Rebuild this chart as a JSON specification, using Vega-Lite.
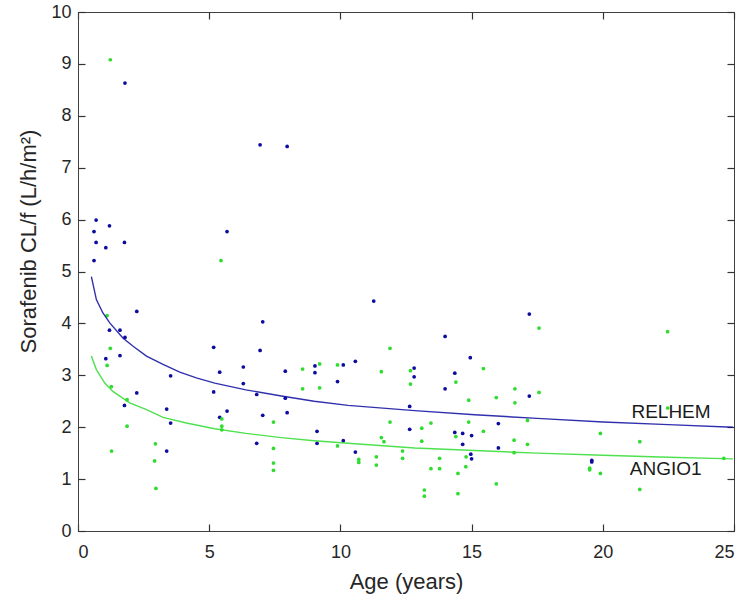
{
  "$schema": "https://vega.github.io/schema/vega-lite/v6.json",
  "width": 656,
  "height": 519,
  "autosize": "none",
  "padding": {"left": 78, "top": 12, "right": 17, "bottom": 70},
  "background": "white",
  "config": {
    "font": "Liberation Sans",
    "view": {"stroke": "#404040", "strokeWidth": 1},
    "axis": {
      "grid": false,
      "domainColor": "#404040",
      "tickColor": "#333333",
      "tickSize": 7,
      "tickWidth": 1.2,
      "labelColor": "#262626",
      "titleColor": "#262626",
      "labelFontSize": 18,
      "titleFontSize": 22,
      "titleFontWeight": "normal",
      "labelFont": "Liberation Sans",
      "titleFont": "Liberation Sans"
    }
  },
  "datasets": {
    "pts": [
      {"age": 0.69, "cl": 5.99, "model": "RELHEM"},
      {"age": 0.61, "cl": 5.77, "model": "RELHEM"},
      {"age": 1.20, "cl": 5.88, "model": "RELHEM"},
      {"age": 0.69, "cl": 5.56, "model": "RELHEM"},
      {"age": 1.06, "cl": 5.46, "model": "RELHEM"},
      {"age": 1.77, "cl": 5.56, "model": "RELHEM"},
      {"age": 0.61, "cl": 5.21, "model": "RELHEM"},
      {"age": 1.79, "cl": 8.63, "model": "RELHEM"},
      {"age": 6.94, "cl": 7.44, "model": "RELHEM"},
      {"age": 7.97, "cl": 7.41, "model": "RELHEM"},
      {"age": 5.68, "cl": 5.77, "model": "RELHEM"},
      {"age": 2.24, "cl": 4.23, "model": "RELHEM"},
      {"age": 1.20, "cl": 3.87, "model": "RELHEM"},
      {"age": 1.60, "cl": 3.87, "model": "RELHEM"},
      {"age": 1.79, "cl": 3.73, "model": "RELHEM"},
      {"age": 1.60, "cl": 3.38, "model": "RELHEM"},
      {"age": 1.06, "cl": 3.32, "model": "RELHEM"},
      {"age": 3.53, "cl": 2.99, "model": "RELHEM"},
      {"age": 2.24, "cl": 2.66, "model": "RELHEM"},
      {"age": 1.77, "cl": 2.42, "model": "RELHEM"},
      {"age": 3.38, "cl": 2.35, "model": "RELHEM"},
      {"age": 3.53, "cl": 2.08, "model": "RELHEM"},
      {"age": 3.38, "cl": 1.54, "model": "RELHEM"},
      {"age": 5.17, "cl": 3.54, "model": "RELHEM"},
      {"age": 5.40, "cl": 3.06, "model": "RELHEM"},
      {"age": 5.17, "cl": 2.68, "model": "RELHEM"},
      {"age": 6.30, "cl": 3.16, "model": "RELHEM"},
      {"age": 6.30, "cl": 2.84, "model": "RELHEM"},
      {"age": 7.04, "cl": 4.03, "model": "RELHEM"},
      {"age": 6.94, "cl": 3.48, "model": "RELHEM"},
      {"age": 6.81, "cl": 2.63, "model": "RELHEM"},
      {"age": 5.68, "cl": 2.31, "model": "RELHEM"},
      {"age": 5.40, "cl": 2.19, "model": "RELHEM"},
      {"age": 7.04, "cl": 2.23, "model": "RELHEM"},
      {"age": 6.81, "cl": 1.69, "model": "RELHEM"},
      {"age": 11.27, "cl": 4.43, "model": "RELHEM"},
      {"age": 7.90, "cl": 3.08, "model": "RELHEM"},
      {"age": 7.90, "cl": 2.56, "model": "RELHEM"},
      {"age": 7.97, "cl": 2.28, "model": "RELHEM"},
      {"age": 9.03, "cl": 3.18, "model": "RELHEM"},
      {"age": 9.03, "cl": 3.05, "model": "RELHEM"},
      {"age": 10.11, "cl": 3.20, "model": "RELHEM"},
      {"age": 10.57, "cl": 3.27, "model": "RELHEM"},
      {"age": 9.89, "cl": 2.88, "model": "RELHEM"},
      {"age": 9.11, "cl": 1.92, "model": "RELHEM"},
      {"age": 9.11, "cl": 1.69, "model": "RELHEM"},
      {"age": 10.11, "cl": 1.74, "model": "RELHEM"},
      {"age": 10.57, "cl": 1.52, "model": "RELHEM"},
      {"age": 12.64, "cl": 2.40, "model": "RELHEM"},
      {"age": 12.64, "cl": 1.96, "model": "RELHEM"},
      {"age": 12.81, "cl": 3.14, "model": "RELHEM"},
      {"age": 12.81, "cl": 2.97, "model": "RELHEM"},
      {"age": 13.99, "cl": 3.75, "model": "RELHEM"},
      {"age": 13.99, "cl": 2.74, "model": "RELHEM"},
      {"age": 14.36, "cl": 3.04, "model": "RELHEM"},
      {"age": 14.36, "cl": 1.90, "model": "RELHEM"},
      {"age": 14.66, "cl": 1.88, "model": "RELHEM"},
      {"age": 14.66, "cl": 1.67, "model": "RELHEM"},
      {"age": 14.95, "cl": 3.34, "model": "RELHEM"},
      {"age": 15.00, "cl": 1.84, "model": "RELHEM"},
      {"age": 14.97, "cl": 1.48, "model": "RELHEM"},
      {"age": 15.00, "cl": 1.39, "model": "RELHEM"},
      {"age": 16.02, "cl": 2.07, "model": "RELHEM"},
      {"age": 16.02, "cl": 1.60, "model": "RELHEM"},
      {"age": 17.20, "cl": 4.18, "model": "RELHEM"},
      {"age": 17.20, "cl": 2.60, "model": "RELHEM"},
      {"age": 19.58, "cl": 1.36, "model": "RELHEM"},
      {"age": 19.58, "cl": 1.33, "model": "RELHEM"},
      {"age": 1.23, "cl": 9.08, "model": "ANGIO1"},
      {"age": 5.45, "cl": 5.21, "model": "ANGIO1"},
      {"age": 1.11, "cl": 4.15, "model": "ANGIO1"},
      {"age": 1.23, "cl": 3.52, "model": "ANGIO1"},
      {"age": 1.11, "cl": 3.19, "model": "ANGIO1"},
      {"age": 1.27, "cl": 2.78, "model": "ANGIO1"},
      {"age": 1.87, "cl": 2.53, "model": "ANGIO1"},
      {"age": 1.87, "cl": 2.02, "model": "ANGIO1"},
      {"age": 2.95, "cl": 1.68, "model": "ANGIO1"},
      {"age": 1.28, "cl": 1.54, "model": "ANGIO1"},
      {"age": 2.92, "cl": 1.35, "model": "ANGIO1"},
      {"age": 2.97, "cl": 0.82, "model": "ANGIO1"},
      {"age": 5.48, "cl": 2.16, "model": "ANGIO1"},
      {"age": 5.48, "cl": 2.02, "model": "ANGIO1"},
      {"age": 5.48, "cl": 1.95, "model": "ANGIO1"},
      {"age": 7.45, "cl": 2.10, "model": "ANGIO1"},
      {"age": 7.45, "cl": 1.59, "model": "ANGIO1"},
      {"age": 7.45, "cl": 1.31, "model": "ANGIO1"},
      {"age": 7.45, "cl": 1.17, "model": "ANGIO1"},
      {"age": 8.56, "cl": 3.12, "model": "ANGIO1"},
      {"age": 8.56, "cl": 2.74, "model": "ANGIO1"},
      {"age": 9.21, "cl": 3.22, "model": "ANGIO1"},
      {"age": 9.21, "cl": 2.76, "model": "ANGIO1"},
      {"age": 9.89, "cl": 3.20, "model": "ANGIO1"},
      {"age": 9.89, "cl": 1.64, "model": "ANGIO1"},
      {"age": 10.70, "cl": 1.38, "model": "ANGIO1"},
      {"age": 10.70, "cl": 1.32, "model": "ANGIO1"},
      {"age": 11.37, "cl": 1.43, "model": "ANGIO1"},
      {"age": 11.37, "cl": 1.27, "model": "ANGIO1"},
      {"age": 11.56, "cl": 3.07, "model": "ANGIO1"},
      {"age": 11.89, "cl": 3.52, "model": "ANGIO1"},
      {"age": 11.89, "cl": 2.10, "model": "ANGIO1"},
      {"age": 11.56, "cl": 1.80, "model": "ANGIO1"},
      {"age": 11.66, "cl": 1.72, "model": "ANGIO1"},
      {"age": 12.37, "cl": 1.54, "model": "ANGIO1"},
      {"age": 12.37, "cl": 1.40, "model": "ANGIO1"},
      {"age": 12.67, "cl": 3.09, "model": "ANGIO1"},
      {"age": 12.67, "cl": 2.83, "model": "ANGIO1"},
      {"age": 13.10, "cl": 1.98, "model": "ANGIO1"},
      {"age": 13.10, "cl": 1.73, "model": "ANGIO1"},
      {"age": 13.45, "cl": 2.08, "model": "ANGIO1"},
      {"age": 13.20, "cl": 0.79, "model": "ANGIO1"},
      {"age": 13.20, "cl": 0.67, "model": "ANGIO1"},
      {"age": 13.45, "cl": 1.20, "model": "ANGIO1"},
      {"age": 13.78, "cl": 1.20, "model": "ANGIO1"},
      {"age": 13.78, "cl": 1.40, "model": "ANGIO1"},
      {"age": 14.40, "cl": 2.87, "model": "ANGIO1"},
      {"age": 14.40, "cl": 1.82, "model": "ANGIO1"},
      {"age": 14.79, "cl": 1.43, "model": "ANGIO1"},
      {"age": 14.78, "cl": 1.24, "model": "ANGIO1"},
      {"age": 14.48, "cl": 1.11, "model": "ANGIO1"},
      {"age": 14.48, "cl": 0.72, "model": "ANGIO1"},
      {"age": 14.89, "cl": 2.10, "model": "ANGIO1"},
      {"age": 14.89, "cl": 2.52, "model": "ANGIO1"},
      {"age": 15.45, "cl": 3.13, "model": "ANGIO1"},
      {"age": 15.45, "cl": 1.92, "model": "ANGIO1"},
      {"age": 15.94, "cl": 2.57, "model": "ANGIO1"},
      {"age": 15.94, "cl": 0.91, "model": "ANGIO1"},
      {"age": 16.65, "cl": 2.74, "model": "ANGIO1"},
      {"age": 16.65, "cl": 2.47, "model": "ANGIO1"},
      {"age": 16.62, "cl": 1.75, "model": "ANGIO1"},
      {"age": 16.62, "cl": 1.51, "model": "ANGIO1"},
      {"age": 17.57, "cl": 3.91, "model": "ANGIO1"},
      {"age": 17.57, "cl": 2.67, "model": "ANGIO1"},
      {"age": 17.13, "cl": 2.13, "model": "ANGIO1"},
      {"age": 17.13, "cl": 1.67, "model": "ANGIO1"},
      {"age": 19.50, "cl": 1.21, "model": "ANGIO1"},
      {"age": 19.50, "cl": 1.18, "model": "ANGIO1"},
      {"age": 19.91, "cl": 1.88, "model": "ANGIO1"},
      {"age": 19.91, "cl": 1.11, "model": "ANGIO1"},
      {"age": 21.41, "cl": 1.72, "model": "ANGIO1"},
      {"age": 21.41, "cl": 0.80, "model": "ANGIO1"},
      {"age": 22.47, "cl": 3.84, "model": "ANGIO1"},
      {"age": 22.47, "cl": 2.37, "model": "ANGIO1"},
      {"age": 24.61, "cl": 1.40, "model": "ANGIO1"}
    ],
    "curves": [
      {"age": 0.51, "cl": 4.90, "model": "RELHEM"},
      {"age": 0.70, "cl": 4.46, "model": "RELHEM"},
      {"age": 0.95, "cl": 4.20, "model": "RELHEM"},
      {"age": 1.21, "cl": 4.01, "model": "RELHEM"},
      {"age": 1.71, "cl": 3.72, "model": "RELHEM"},
      {"age": 2.10, "cl": 3.56, "model": "RELHEM"},
      {"age": 2.61, "cl": 3.37, "model": "RELHEM"},
      {"age": 3.24, "cl": 3.21, "model": "RELHEM"},
      {"age": 3.88, "cl": 3.06, "model": "RELHEM"},
      {"age": 4.51, "cl": 2.95, "model": "RELHEM"},
      {"age": 5.21, "cl": 2.85, "model": "RELHEM"},
      {"age": 6.40, "cl": 2.72, "model": "RELHEM"},
      {"age": 7.75, "cl": 2.60, "model": "RELHEM"},
      {"age": 9.00, "cl": 2.50, "model": "RELHEM"},
      {"age": 10.29, "cl": 2.42, "model": "RELHEM"},
      {"age": 12.83, "cl": 2.32, "model": "RELHEM"},
      {"age": 15.12, "cl": 2.24, "model": "RELHEM"},
      {"age": 17.50, "cl": 2.17, "model": "RELHEM"},
      {"age": 20.01, "cl": 2.10, "model": "RELHEM"},
      {"age": 22.50, "cl": 2.05, "model": "RELHEM"},
      {"age": 24.96, "cl": 2.00, "model": "RELHEM"},
      {"age": 0.51, "cl": 3.37, "model": "ANGIO1"},
      {"age": 0.70, "cl": 3.11, "model": "ANGIO1"},
      {"age": 1.02, "cl": 2.85, "model": "ANGIO1"},
      {"age": 1.33, "cl": 2.69, "model": "ANGIO1"},
      {"age": 1.59, "cl": 2.60, "model": "ANGIO1"},
      {"age": 1.97, "cl": 2.47, "model": "ANGIO1"},
      {"age": 2.61, "cl": 2.34, "model": "ANGIO1"},
      {"age": 3.24, "cl": 2.19, "model": "ANGIO1"},
      {"age": 4.13, "cl": 2.08, "model": "ANGIO1"},
      {"age": 5.21, "cl": 1.97, "model": "ANGIO1"},
      {"age": 6.40, "cl": 1.88, "model": "ANGIO1"},
      {"age": 7.75, "cl": 1.80, "model": "ANGIO1"},
      {"age": 9.00, "cl": 1.74, "model": "ANGIO1"},
      {"age": 10.29, "cl": 1.69, "model": "ANGIO1"},
      {"age": 12.83, "cl": 1.60, "model": "ANGIO1"},
      {"age": 15.12, "cl": 1.55, "model": "ANGIO1"},
      {"age": 17.50, "cl": 1.50, "model": "ANGIO1"},
      {"age": 20.01, "cl": 1.46, "model": "ANGIO1"},
      {"age": 22.50, "cl": 1.42, "model": "ANGIO1"},
      {"age": 24.96, "cl": 1.39, "model": "ANGIO1"}
    ],
    "labels": [
      {"age": 22.6, "cl": 2.29, "label": "RELHEM"},
      {"age": 22.4, "cl": 1.20, "label": "ANGIO1"}
    ]
  },
  "layer": [
    {
      "data": {"name": "pts"},
      "mark": {"type": "circle", "size": 14, "opacity": 1},
      "encoding": {
        "x": {"field": "age", "type": "quantitative",
              "scale": {"domain": [0, 25], "nice": false},
              "axis": {"orient": "bottom", "title": "Age (years)", "values": [0, 5, 10, 15, 20, 25], "ticks": false, "labelPadding": 12, "titlePadding": 10}},
        "y": {"field": "cl", "type": "quantitative",
              "scale": {"domain": [0, 10], "nice": false},
              "axis": {"orient": "left", "title": "Sorafenib CL/f (L/h/m²)", "values": [0,1,2,3,4,5,6,7,8,9,10], "ticks": false, "labelPadding": 7, "titlePadding": 10, "titleY": 229}},
        "color": {"field": "model", "type": "nominal",
                  "scale": {"domain": ["RELHEM", "ANGIO1"], "range": ["#0c0ca0", "#2fdc2f"]},
                  "legend": null}
      }
    },
    {
      "data": {"name": "curves"},
      "mark": {"type": "line", "strokeWidth": 1.4, "strokeOpacity": 0.85},
      "encoding": {
        "x": {"field": "age", "type": "quantitative",
              "scale": {"domain": [0, 25], "nice": false},
              "axis": {"orient": "top", "offset": -519, "title": null, "labels": false, "values": [0, 5, 10, 15, 20, 25], "domain": false}},
        "y": {"field": "cl", "type": "quantitative",
              "scale": {"domain": [0, 10], "nice": false},
              "axis": {"orient": "right", "offset": -656, "title": null, "labels": false, "values": [0,1,2,3,4,5,6,7,8,9,10], "domain": false}},
        "color": {"field": "model", "type": "nominal", "legend": null}
      }
    },
    {
      "data": {"name": "labels"},
      "mark": {"type": "text", "fontSize": 19, "color": "#1a1a1a", "align": "center", "baseline": "middle", "font": "Liberation Sans"},
      "encoding": {
        "x": {"field": "age", "type": "quantitative",
              "axis": {"orient": "bottom", "offset": -519, "title": null, "labels": false, "values": [0, 5, 10, 15, 20, 25], "domain": false}},
        "y": {"field": "cl", "type": "quantitative",
              "axis": {"orient": "left", "offset": -656, "title": null, "labels": false, "values": [0,1,2,3,4,5,6,7,8,9,10], "domain": false}},
        "text": {"field": "label"}
      }
    }
  ],
  "resolve": {"axis": {"x": "independent", "y": "independent"}}
}
